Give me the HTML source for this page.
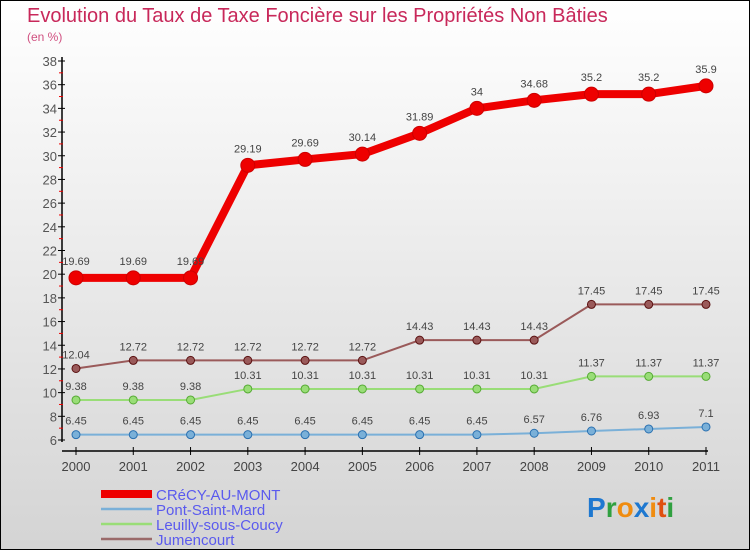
<!DOCTYPE html>
<html><head><meta charset="utf-8"><style>
body{margin:0}
#wrap{width:750px;height:550px;position:relative;box-sizing:border-box;border:1px solid #000;background:linear-gradient(#fff,#d4d4d4);font-family:"Liberation Sans",sans-serif;overflow:hidden}
svg{position:absolute;left:0;top:0}
</style></head><body>
<div id="wrap">
<svg id="s" width="750" height="550">
<text x="26" y="21" font-size="20" fill="#c8285a">Evolution du Taux de Taxe Foncière sur les Propriétés Non Bâties</text>
<text x="26" y="40" font-size="12" fill="#d05080">(en %)</text>
<text x="586" y="516" font-size="28" font-weight="bold"><tspan fill="#1e78d0">P</tspan><tspan fill="#30a040">r</tspan><tspan fill="#f08c10">o</tspan><tspan fill="#1e78d0">x</tspan><tspan fill="#f08c10">i</tspan><tspan fill="#e05010">t</tspan><tspan fill="#30a040">i</tspan></text>
</svg>
</div>
<script>
const years=["2000","2001","2002","2003","2004","2005","2006","2007","2008","2009","2010","2011"];
const crecy=[19.69,19.69,19.69,29.19,29.69,30.14,31.89,34,34.68,35.2,35.2,35.9];
const pont=[6.45,6.45,6.45,6.45,6.45,6.45,6.45,6.45,6.57,6.76,6.93,7.1];
const leuilly=[9.38,9.38,9.38,10.31,10.31,10.31,10.31,10.31,10.31,11.37,11.37,11.37];
const jumen=[12.04,12.72,12.72,12.72,12.72,12.72,14.43,14.43,14.43,17.45,17.45,17.45];
const yTicks=[6,8,10,12,14,16,18,20,22,24,26,28,30,32,34,36,38];
const names=["CRéCY-AU-MONT","Pont-Saint-Mard","Leuilly-sous-Coucy","Jumencourt"];
const NS="http://www.w3.org/2000/svg",svg=document.getElementById('s');
const X=i=>75+i*(630/11), Y=v=>439-(v-6)*(379/32);
function el(t,a,p){const e=document.createElementNS(NS,t);for(const k in a)e.setAttribute(k,a[k]);(p||svg).appendChild(e);return e;}
function tx(x,y,s,a,sz,c){const e=el('text',{x:x,y:y,'text-anchor':a,'font-size':sz,fill:c||'#444'});e.textContent=s;return e;}
const ax=el('line',{x1:61,y1:56,x2:61,y2:441,stroke:'#000','stroke-width':1.5});

const xa=el('line',{x1:61,y1:450,x2:707,y2:450,stroke:'#000','stroke-width':1.5});

yTicks.forEach((v,i)=>{el('line',{x1:57,y1:Y(v),x2:64,y2:Y(v),stroke:'#000'});
 if(i<yTicks.length-1)el('line',{x1:58,y1:Y(v+1),x2:62,y2:Y(v+1),stroke:'#e00'});
 const t=tx(56,Y(v)+5,v,'end',13,'#555');});
years.forEach((y,i)=>{el('line',{x1:X(i),y1:446,x2:X(i),y2:454,stroke:'#000'});
 const t=tx(X(i),470,y,'middle',13,'#444');});
function series(d,col,w,r,name,dark){
 const pl=el('polyline',{points:d.map((v,i)=>X(i)+','+Y(v)).join(' '),fill:'none',stroke:col,'stroke-width':w});
 
 d.forEach((v,i)=>{const c=el('circle',{cx:X(i),cy:Y(v),r:r,fill:col,stroke:dark,'stroke-width':1});
  
  const t=tx(X(i),Y(v)-(r+6),String(v),'middle',11,'#444');
  });
}
series(pont,'#7ab0d8',2,4,'pont-saint-mard','#2a70b0');
series(leuilly,'#99dd77',2,4,'leuilly-sous-coucy','#55aa33');
series(jumen,'#9a5a5a',2,4,'jumencourt','#5a1010');
series(crecy,'#ee0000',8,7,'crecy-au-mont','#cc0000');
const lc=['#ee0000','#7ab0d8','#99dd77','#9a6a6a'],lw=[8,2.5,2.5,2.5];
names.forEach((n,i)=>{const y=493+i*15;
 const l=el('line',{x1:100,y1:y,x2:151,y2:y,stroke:lc[i],'stroke-width':lw[i]});
 
 const t=tx(155,y+6,n,'start',15,'#5a5aee');
 });
</script>
</body></html>
